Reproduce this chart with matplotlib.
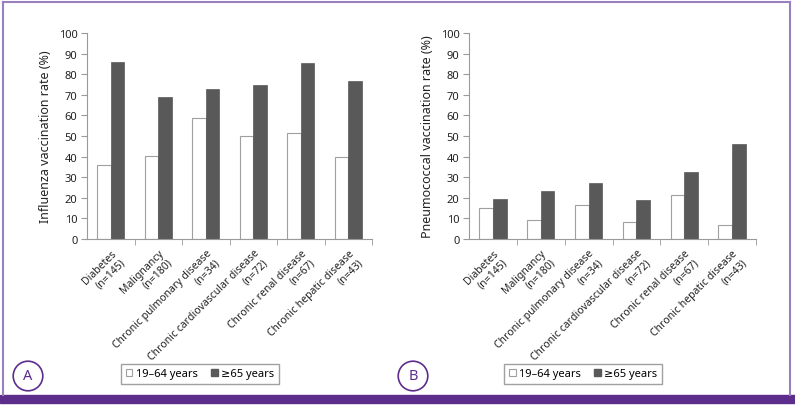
import matplotlib
matplotlib.use('Agg')
import matplotlib.pyplot as plt
import numpy as np
from matplotlib.patches import Patch, Rectangle
from matplotlib.lines import Line2D

plt.rcParams['font.family'] = ['Noto Sans', 'DejaVu Sans']

categories = ['Diabetes\n(n=145)', 'Malignancy\n(n=180)',
              'Chronic pulmonary disease\n(n=34)',
              'Chronic cardiovascular disease\n(n=72)',
              'Chronic renal disease\n(n=67)',
              'Chronic hepatic disease\n(n=43)']
groups = ['19\u201364 years', '\u226565 years']

flu_young = [35.8, 40.5, 58.5, 50.1, 51.5, 40.0]
flu_old = [85.9, 69.0, 72.6, 75.0, 85.3, 76.9]
pneumo_young = [15.0, 9.1, 16.6, 8.3, 21.2, 6.7]
pneumo_old = [19.2, 23.3, 27.2, 18.8, 32.3, 46.3]

W, H = 795, 406
dark = '#595959'
edge = '#a0a0a0'
axis_col = '#9a9a9a'
txt = '#222222'
purple = '#5c2d8a'
light_purple = '#9a80bf'

fig = plt.figure(figsize=(W / 100, H / 100), dpi=100)


def px_axes(x0, x1, y0, y1):
    return fig.add_axes([x0 / W, 1 - y1 / H, (x1 - x0) / W, (y1 - y0) / H])


def draw_panel(ax, young, old, ylabel):
    x = np.arange(len(categories))
    bw = 0.285
    ax.bar(x - bw / 2, young, bw, color='white', edgecolor=edge, linewidth=0.8)
    ax.bar(x + bw / 2, old, bw, color=dark, edgecolor=dark, linewidth=0.5)
    ax.set_xlim(-0.5, len(categories) - 0.5)
    ax.set_ylim(0, 100)
    ax.set_yticks(range(0, 101, 10))
    ax.set_xticks(x)
    ax.set_xticklabels(categories, rotation=45, ha='right', va='top',
                       rotation_mode='anchor', multialignment='right',
                       linespacing=1.25, fontsize=7.5, color=txt)
    ax.set_xticks(np.arange(0.5, len(categories), 1), minor=True)
    ax.tick_params(axis='x', which='major', length=0, pad=6)
    ax.tick_params(axis='x', which='minor', length=4, color=axis_col, direction='out')
    ax.tick_params(axis='y', length=4, color=axis_col, labelsize=8, labelcolor=txt, pad=3)
    for s in ['top', 'right']:
        ax.spines[s].set_visible(False)
    for s in ['left', 'bottom']:
        ax.spines[s].set_color(axis_col)
        ax.spines[s].set_linewidth(0.8)
    ax.set_ylabel(ylabel, fontsize=9, color=txt, labelpad=5)


ax1 = px_axes(87, 372, 34, 240)
draw_panel(ax1, flu_young, flu_old, 'Influenza vaccination rate (%)')
ax2 = px_axes(469, 756, 34, 240)
draw_panel(ax2, pneumo_young, pneumo_old, 'Pneumococcal vaccination rate (%)')

handles = [Patch(facecolor='white', edgecolor=edge, linewidth=0.8),
           Patch(facecolor=dark, edgecolor=dark)]
for cx, cy in [(200, 375), (583, 375)]:
    fig.legend(handles, groups, loc='center', bbox_to_anchor=(cx / W, 1 - cy / H),
               ncol=2, fontsize=8, frameon=True, fancybox=False, edgecolor='#a0a0a0',
               handlelength=0.6, handleheight=0.6, handletextpad=0.3,
               columnspacing=1.2, borderpad=0.4, framealpha=1)

# frame
fig.add_artist(Line2D([3 / W, 790 / W], [1 - 3 / H, 1 - 3 / H], color=light_purple, lw=1.5))
fig.add_artist(Line2D([3 / W, 3 / W], [1 - 3 / H, 1 - 396 / H], color=light_purple, lw=1.5))
fig.add_artist(Line2D([790 / W, 790 / W], [1 - 3 / H, 1 - 396 / H], color=light_purple, lw=1.5))
fig.add_artist(Rectangle((0, 2 / H), 1, 8 / H, color=purple, transform=fig.transFigure))

for lbl, cx in [('A', 28), ('B', 413)]:
    fig.text(cx / W, 1 - 377 / H, lbl, ha='center', va='center', fontsize=10.5,
             color=purple, fontweight='bold',
             bbox=dict(boxstyle='circle,pad=0.5', fc='white', ec=purple, lw=1.2))

fig.savefig('out.png', dpi=100)
